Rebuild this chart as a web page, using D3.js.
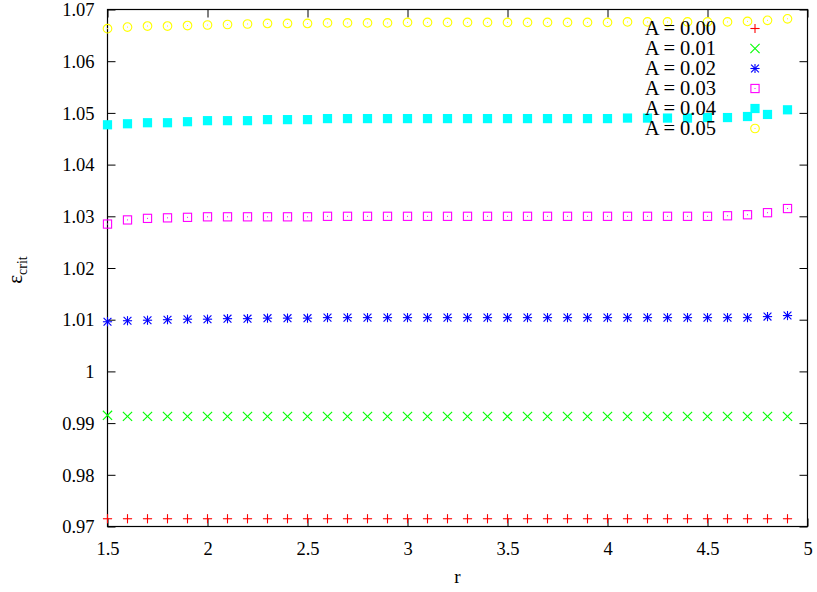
<!DOCTYPE html>
<html>
<head>
<meta charset="utf-8">
<script src="https://cdn.jsdelivr.net/npm/d3@7"></script>
<style>
  html, body { margin: 0; padding: 0; background: #fff; }
  svg { display: block; }
  svg text { font-family: 'Liberation Serif', 'Times New Roman', serif !important; fill: #000; }
</style>
</head>
<body>
<svg id="chart" width="817" height="592"></svg>
<script>
// ---- data ----
const rValues = [1.5,1.6,1.7,1.8,1.9,2.0,2.1,2.2,2.3,2.4,2.5,2.6,2.7,2.8,2.9,3.0,3.1,3.2,3.3,3.4,3.5,3.6,3.7,3.8,3.9,4.0,4.1,4.2,4.3,4.4,4.5,4.6,4.7,4.8,4.9];

const seriesNames = ["A = 0.00","A = 0.01","A = 0.02","A = 0.03","A = 0.04","A = 0.05"];

const epsA000 = [0.9715,0.9715,0.9715,0.9715,0.9715,0.9715,0.9715,0.9715,0.9715,0.9715,0.9715,0.9715,0.9715,0.9715,0.9715,0.9715,0.9715,0.9715,0.9715,0.9715,0.9715,0.9715,0.9715,0.9715,0.9715,0.9715,0.9715,0.9715,0.9715,0.9715,0.9715,0.9715,0.9715,0.9715,0.9715];
const epsA001 = [0.9915,0.9913,0.9913,0.9913,0.9913,0.9913,0.9913,0.9913,0.9913,0.9913,0.9913,0.9913,0.9913,0.9913,0.9913,0.9913,0.9913,0.9913,0.9913,0.9913,0.9913,0.9913,0.9913,0.9913,0.9913,0.9913,0.9913,0.9913,0.9913,0.9913,0.9913,0.9913,0.9913,0.9913,0.9913];
const epsA002 = [1.0096,1.0098,1.0099,1.0100,1.0101,1.0101,1.0102,1.0102,1.0103,1.0103,1.0103,1.0104,1.0104,1.0104,1.0104,1.0104,1.0104,1.0104,1.0104,1.0104,1.0104,1.0104,1.0104,1.0104,1.0104,1.0104,1.0104,1.0104,1.0104,1.0104,1.0104,1.0104,1.0104,1.0106,1.0108];
const epsA003 = [1.0285,1.0293,1.0296,1.0297,1.0298,1.0299,1.0299,1.0299,1.0299,1.0299,1.0299,1.0300,1.0300,1.0300,1.0300,1.0300,1.0300,1.0300,1.0300,1.0300,1.0300,1.0300,1.0300,1.0300,1.0300,1.0300,1.0300,1.0300,1.0300,1.0300,1.0300,1.0301,1.0303,1.0307,1.0315];
const epsA004 = [1.0477,1.0479,1.0481,1.0481,1.0483,1.0485,1.0485,1.0485,1.0487,1.0487,1.0487,1.0489,1.0489,1.0489,1.0489,1.0489,1.0489,1.0489,1.0489,1.0489,1.0489,1.0489,1.0489,1.0489,1.0489,1.0489,1.0490,1.0490,1.0490,1.0490,1.0491,1.0491,1.0493,1.0497,1.0506];
const epsA005 = [1.0663,1.0666,1.0668,1.0668,1.0669,1.0670,1.0671,1.0672,1.0673,1.0673,1.0673,1.0674,1.0674,1.0674,1.0674,1.0675,1.0675,1.0675,1.0675,1.0675,1.0675,1.0675,1.0675,1.0675,1.0675,1.0675,1.0676,1.0676,1.0676,1.0676,1.0676,1.0676,1.0677,1.0679,1.0682];

const xTickValues = [1.5,2,2.5,3,3.5,4,4.5,5];
const xTickLabels = ["1.5","2","2.5","3","3.5","4","4.5","5"];
const yTickValues = [0.97,0.98,0.99,1.00,1.01,1.02,1.03,1.04,1.05,1.06,1.07];
const yTickLabels = ["0.97","0.98","0.99","1","1.01","1.02","1.03","1.04","1.05","1.06","1.07"];

const seriesValues = [epsA000, epsA001, epsA002, epsA003, epsA004, epsA005];
const seriesColors = ["#ff0000","#00ff00","#0000ff","#ff00ff","#00ffff","#ffff00"];
const seriesMarkers = ["plus","cross","star","box","boxfill","circle"];

const FONT = "'Liberation Serif', 'Times New Roman', serif";

// ---- layout ----
const svg = d3.select("#chart");
const margin = {left: 107.5, top: 9.5, right: 9.5, bottom: 65.5};
const W = 817 - margin.left - margin.right;
const H = 592 - margin.top - margin.bottom;

const x = d3.scaleLinear().domain([1.5, 5]).range([0, W]);
const y = d3.scaleLinear().domain([0.97, 1.07]).range([H, 0]);

const g = svg.append("g").attr("transform", `translate(${margin.left},${margin.top})`);

// axes (ticks inward, mirrored)
const tick = 8;
const axB = g.append("g").attr("transform", `translate(0,${H})`)
  .call(d3.axisBottom(x).tickValues(xTickValues).tickFormat((d,i)=>xTickLabels[i]).tickSize(-tick).tickPadding(15));
const axT = g.append("g")
  .call(d3.axisTop(x).tickValues(xTickValues).tickFormat("").tickSize(-tick));
const axL = g.append("g")
  .call(d3.axisLeft(y).tickValues(yTickValues).tickFormat((d,i)=>yTickLabels[i]).tickSize(-tick).tickPadding(13));
const axR = g.append("g").attr("transform", `translate(${W},0)`)
  .call(d3.axisRight(y).tickValues(yTickValues).tickFormat("").tickSize(-tick));

[axB, axT, axL, axR].forEach(a => {
  a.attr("font-family", FONT);
  a.select(".domain").remove();
  a.selectAll(".tick line").attr("stroke", "#000").attr("stroke-width", 1);
  a.selectAll(".tick text").attr("font-size", 18.5).attr("fill", "#000").style("font-family", FONT);
});
axL.selectAll(".tick text").attr("dy", "0.34em");
axB.selectAll(".tick text").attr("dy", "0.71em");

g.append("rect").attr("x", 0).attr("y", 0).attr("width", W).attr("height", H)
  .attr("fill", "none").attr("stroke", "#000").attr("stroke-width", 1.2);

// axis titles
svg.append("text").attr("x", margin.left + W/2).attr("y", 583).style("font-family", FONT)
  .attr("text-anchor", "middle").attr("font-size", 19).text("r");
const yl = svg.append("text").style("font-family", FONT)
  .attr("transform", `translate(22,${margin.top + H/2 + 2}) rotate(-90)`)
  .attr("text-anchor", "middle").attr("font-size", 21);
yl.append("tspan").text("ε");
yl.append("tspan").attr("font-size", 14).attr("dy", 5).text("crit");

// markers
const s = 4.6;
function drawMarker(sel, type, color, cx, cy) {
  const m = sel.append("g").attr("transform", `translate(${cx},${cy})`);
  const line = (x1,y1,x2,y2) => m.append("line").attr("x1",x1).attr("y1",y1).attr("x2",x2).attr("y2",y2)
    .attr("stroke", color).attr("stroke-width", 1.1);
  if (type === "plus") { line(-s,0,s,0); line(0,-s,0,s); }
  else if (type === "cross") { line(-s,-s,s,s); line(-s,s,s,-s); }
  else if (type === "star") { line(-s,0,s,0); line(0,-s,0,s); line(-s*0.85,-s*0.85,s*0.85,s*0.85); line(-s*0.85,s*0.85,s*0.85,-s*0.85); }
  else if (type === "box") {
    m.append("rect").attr("x",-s+0.5).attr("y",-s+0.5).attr("width",2*s-1).attr("height",2*s-1)
      .attr("fill","none").attr("stroke",color).attr("stroke-width",1.1);
    m.append("rect").attr("x",-0.5).attr("y",-0.5).attr("width",1).attr("height",1).attr("fill",color);
  }
  else if (type === "boxfill") {
    m.append("rect").attr("x",-s).attr("y",-s).attr("width",2*s).attr("height",2*s).attr("fill",color);
  }
  else if (type === "circle") {
    m.append("circle").attr("r", s-0.3).attr("fill","none").attr("stroke",color).attr("stroke-width",1.1);
    m.append("rect").attr("x",-0.5).attr("y",-0.5).attr("width",1).attr("height",1).attr("fill",color);
  }
}

const plot = g.append("g");
seriesValues.forEach((vals, si) => {
  vals.forEach((v, i) => drawMarker(plot, seriesMarkers[si], seriesColors[si], x(rValues[i]), y(v)));
});

// legend (drawn over data)
const leg = svg.append("g");
seriesNames.forEach((name, i) => {
  const cy = 28.5 + i * 20;
  leg.append("text").attr("x", 716).attr("y", cy).attr("dy", "0.34em").style("font-family", FONT)
    .attr("text-anchor", "end").attr("font-size", 20.5).text(name);
  drawMarker(leg, seriesMarkers[i], seriesColors[i], 755, cy);
});
</script>
</body>
</html>
